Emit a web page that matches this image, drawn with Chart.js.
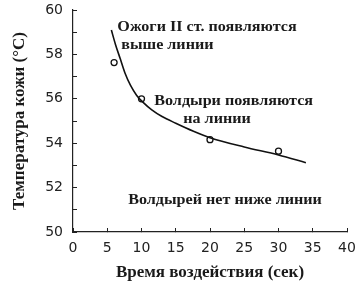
<!DOCTYPE html>
<html><head><meta charset="utf-8">
<script src="https://cdn.jsdelivr.net/npm/chart.js@4.4.1/dist/chart.umd.min.js"></script>
<style>html,body{margin:0;padding:0;background:#fff}#wrap{width:363px;height:286px}</style>
</head><body><div id="wrap"><canvas id="c" width="363" height="286"></canvas></div>
<script>
// Measured points (exposure time, s / skin temperature, °C)
const pointTimes = [6, 10, 20, 30];
const pointTemps = [57.63, 56.0, 54.16, 53.64];
// Threshold curve
const curveTimes = [5.6, 6.2, 6.9, 7.6, 8.4, 9.3, 10.2, 11.5, 13, 15, 17.5, 20, 25, 30, 34];
const curveTemps = [59.1, 58.45, 57.8, 57.15, 56.6, 56.15, 55.85, 55.5, 55.2, 54.9, 54.55, 54.25, 53.83, 53.47, 53.12];
// Axis ticks
const xTicks = [0, 5, 10, 15, 20, 25, 30, 35, 40];
const yTickLabels = [50, 52, 54, 56, 58, 60];
// Annotation texts
const noteTexts = ['Ожоги II ст. появляются', 'выше линии', 'Волдыри появляются', 'на линии', 'Волдырей нет ниже линии'];
const xTitle = 'Время воздействия (сек)';
const yTitle = 'Температура кожи (°C)';

const noteAnchors = [[6.46, 59.25], [7.04, 58.42], [11.86, 55.9], [16.09, 55.08], [8.06, 51.43]];

const notesPlugin = {
  id: 'notes',
  afterDatasetsDraw(chart) {
    const {ctx, scales: {x, y}} = chart;
    ctx.save();
    ctx.font = 'bold 15px "Liberation Serif", "Times New Roman", serif';
    ctx.fillStyle = '#1a1a1a';
    ctx.textAlign = 'left';
    ctx.textBaseline = 'middle';
    noteTexts.forEach((t, i) => {
      const a = noteAnchors[i];
      const px = x.getPixelForValue(a[0]), py = y.getPixelForValue(a[1]);
      ctx.save();
      ctx.translate(px, py);
      ctx.scale(1.075, 1);
      ctx.fillText(t, 0, 0);
      ctx.restore();
    });
    ctx.restore();
  }
};

const axisColor = '#222';
new Chart(document.getElementById('c'), {
  type: 'scatter',
  data: {
    datasets: [
      {
        type: 'line',
        data: curveTimes.map((t, i) => ({x: t, y: curveTemps[i]})),
        borderColor: '#111', borderWidth: 1.6, pointRadius: 0,
        cubicInterpolationMode: 'monotone', fill: false
      },
      {
        data: pointTimes.map((t, i) => ({x: t, y: pointTemps[i]})),
        pointRadius: 3, pointBorderWidth: 1.3, pointBorderColor: '#111',
        pointBackgroundColor: '#fff', showLine: false
      }
    ]
  },
  options: {
    responsive: false, animation: false,
    layout: {padding: {top: 10, right: 16, left: 0, bottom: 0}},
    plugins: {legend: {display: false}, tooltip: {enabled: false}},
    scales: {
      x: {
        type: 'linear', min: 0, max: 40,
        afterBuildTicks(s) { s.ticks = xTicks.map(v => ({value: v})); },
        afterFit(s) { s.height = 54; s.paddingLeft = 0; s.paddingRight = 0; },
        ticks: {color: '#222', font: {family: '"DejaVu Sans", sans-serif', size: 14}, padding: 12, maxRotation: 0},
        grid: {display: true, drawOnChartArea: false, drawTicks: true, tickLength: -4, color: axisColor},
        border: {color: axisColor, width: 1.2},
        title: {display: true, text: xTitle, color: '#1a1a1a',
          font: {family: '"Liberation Serif", "Times New Roman", serif', size: 17, weight: 'bold'},
          padding: {top: 0, bottom: 3}}
      },
      y: {
        min: 50, max: 60,
        ticks: {stepSize: 1, color: '#222', font: {family: '"DejaVu Sans", sans-serif', size: 14}, padding: 14,
          callback: v => yTickLabels.includes(v) ? String(v) : ''},
        afterFit(s) { s.width = 73; s.paddingTop = 0; s.paddingBottom = 0; },
        grid: {display: true, drawOnChartArea: false, drawTicks: true, tickLength: -4, color: axisColor},
        border: {color: axisColor, width: 1.2},
        title: {display: true, text: yTitle, color: '#1a1a1a',
          font: {family: '"Liberation Serif", "Times New Roman", serif', size: 17, weight: 'bold'},
          padding: {top: 9, bottom: 0}}
      }
    }
  },
  plugins: [notesPlugin]
});
</script></body></html>
